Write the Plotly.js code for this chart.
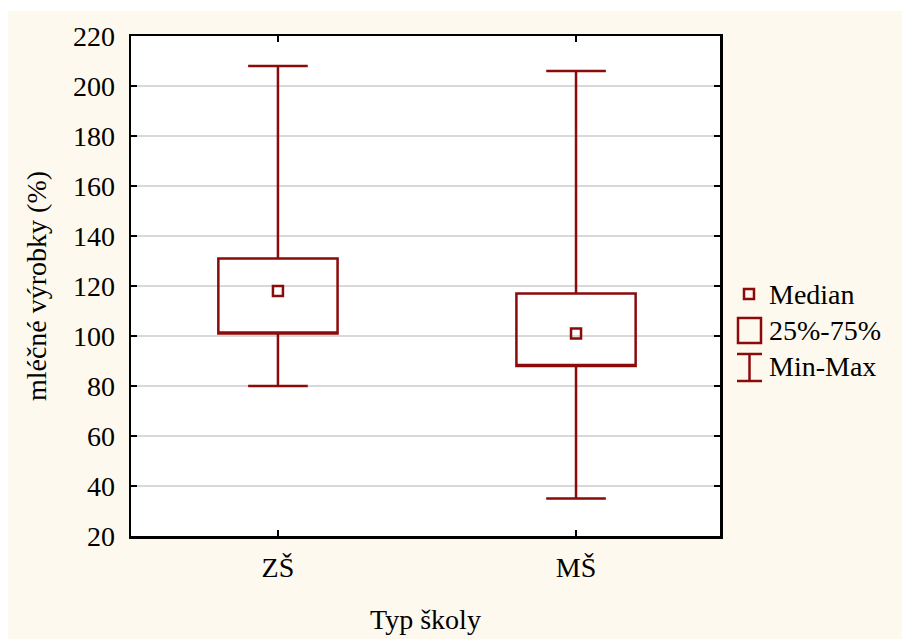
<!DOCTYPE html>
<html>
<head>
<meta charset="utf-8">
<script src="https://cdn.plot.ly/plotly-3.0.1.min.js"></script>
<style>
html,body{margin:0;padding:0;background:#ffffff;}
#chart{position:absolute;left:8px;top:11px;width:894px;height:628px;}
</style>
</head>
<body>
<div id="chart"></div>
<script>
var categories = ["ZŠ", "MŠ"];
var minVals = [80, 35];
var q1Vals = [101, 88];
var medianVals = [118, 101];
var q3Vals = [131, 117];
var maxVals = [208, 206];
var yTicks = [20, 40, 60, 80, 100, 120, 140, 160, 180, 200, 220];
var legendLabels = ["Median", "25%-75%", "Min-Max"];

var RED = "#8b0a0a";
var FONT = "Liberation Serif, Times New Roman, serif";
var FS = 28;

var boxTrace = {
  type: "box",
  x: categories,
  q1: q1Vals,
  median: q1Vals,
  q3: q3Vals,
  lowerfence: minVals,
  upperfence: maxVals,
  width: 0.4,
  whiskerwidth: 0.5,
  boxpoints: false,
  line: {color: RED, width: 2.5},
  fillcolor: "rgba(255,255,255,0)",
  hoverinfo: "skip",
  showlegend: false
};

var medTrace = {
  type: "scatter",
  mode: "markers",
  x: categories,
  y: medianVals,
  marker: {symbol: "square-open", size: 10, color: RED, line: {color: RED, width: 2.5}},
  hoverinfo: "skip",
  showlegend: false
};

// legend helpers (pixel -> paper)
function px(x){ return (x - 131) / 589; }
function py(y){ return (536 - y) / 500; }

var shapes = [
  {type: "rect", xref: "paper", yref: "paper", x0: px(744), x1: px(754), y0: py(289), y1: py(299), line: {color: RED, width: 2.5}},
  {type: "rect", xref: "paper", yref: "paper", x0: px(738), x1: px(761), y0: py(318), y1: py(343), line: {color: RED, width: 2.5}},
  {type: "line", xref: "paper", yref: "paper", x0: px(737), x1: px(762), y0: py(354), y1: py(354), line: {color: RED, width: 2.5}},
  {type: "line", xref: "paper", yref: "paper", x0: px(737), x1: px(762), y0: py(381), y1: py(381), line: {color: RED, width: 2.5}},
  {type: "line", xref: "paper", yref: "paper", x0: px(749.5), x1: px(749.5), y0: py(354), y1: py(381), line: {color: RED, width: 2.5}}
];

var legY = [294, 330, 367];
var annotations = legendLabels.map(function(t, i){
  return {xref: "paper", yref: "paper", x: px(767), y: py(legY[i]), text: t, showarrow: false,
          xanchor: "left", yanchor: "middle", font: {family: FONT, size: FS, color: "#000"}};
});

var layout = {
  width: 894,
  height: 628,
  margin: {l: 123, r: 182, t: 25, b: 103},
  paper_bgcolor: "#fdf9ee",
  plot_bgcolor: "#ffffff",
  showlegend: false,
  font: {family: FONT, size: FS, color: "#000"},
  xaxis: {
    type: "category",
    range: [-0.493, 1.483],
    showline: true, linecolor: "#000", linewidth: 2.5, mirror: "ticks",
    ticks: "inside", ticklen: 6, tickwidth: 2, tickcolor: "#000",
    showgrid: false, zeroline: false,
    ticklabelstandoff: 5,
    tickfont: {family: FONT, size: FS},
    title: {text: "Typ školy", font: {family: FONT, size: FS}, standoff: 28}
  },
  yaxis: {
    range: [20, 220],
    tickvals: yTicks,
    ticktext: yTicks.map(String),
    showline: true, linecolor: "#000", linewidth: 2.5, mirror: "ticks",
    ticks: "inside", ticklen: 6, tickwidth: 2, tickcolor: "#000",
    showgrid: true, gridcolor: "#d9d9d9", gridwidth: 2,
    zeroline: false,
    ticklabelstandoff: 8,
    tickfont: {family: FONT, size: FS},
    title: {text: "mléčné výrobky (%)", font: {family: FONT, size: FS}, standoff: 18}
  },
  shapes: shapes,
  annotations: annotations
};

Plotly.newPlot("chart", [boxTrace, medTrace], layout, {displayModeBar: false, staticPlot: true});
</script>
</body>
</html>
